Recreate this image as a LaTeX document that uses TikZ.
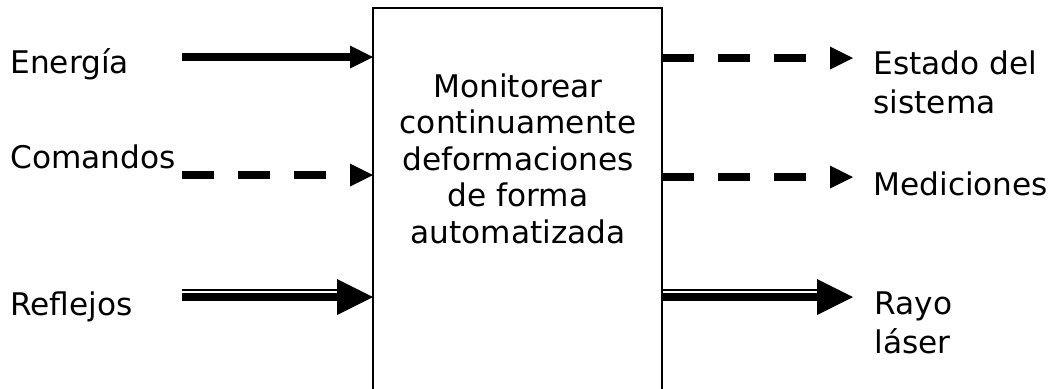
\documentclass[tikz,border=0pt]{standalone}
\usepackage{fontspec}
\setmainfont{DejaVu Sans}
\usetikzlibrary{arrows.meta}
\tikzset{
    >={Triangle[length=11.5pt,width=11.5pt,line width=0pt]},
    flow/.style={line width=4pt,->},
    dashflow/.style={flow,dash pattern=on 16pt off 12pt},
    bigflow/.style={line width=4pt,-{Triangle[length=18pt,width=18pt,line width=0pt]}},
    thinflow/.style={line width=0.75pt},
    tag/.style={anchor=base west,inner sep=0pt,align=left,font=\fontsize{15.6}{19.25}\selectfont},
    taskbox/.style={draw,line width=1pt,outer sep=0pt,anchor=north,minimum width=144.5pt,minimum height=200pt},
    tasktext/.style={anchor=north,inner sep=0pt,align=center,font=\fontsize{15.6}{18.25}\selectfont}
}

\begin{document}
\begin{tikzpicture}[x=0.5pt,y=-0.5pt]
  \useasboundingbox (0,0) rectangle (1053,388);
  \clip (0,0) rectangle (1053,388);

  \node[taskbox] (task) at (517.5,8) {};
  \node[tasktext] (tasklabel) at (518,73) {Monitorear\\continuamente\\deformaciones\\de forma\\automatizada};

  % inputs
  \coordinate (energiaIn) at (182,57);
  \coordinate (comandosIn) at (182,175);
  \coordinate (reflejosIn) at (182,297);
  \draw[flow] (energiaIn) -- (energiaIn -| task.west);
  \draw[dashflow] (comandosIn) -- (comandosIn -| task.west);
  \draw[thinflow,shorten >=14pt] ([yshift=3.5pt]reflejosIn) -- ([yshift=3.5pt]reflejosIn -| task.west);
  \draw[bigflow] (reflejosIn) -- (reflejosIn -| task.west);

  % outputs
  \coordinate (estadoOut) at (853,58);
  \coordinate (medicionesOut) at (853,177);
  \coordinate (rayoOut) at (853,297);
  \draw[dashflow] (estadoOut -| task.east) -- (estadoOut);
  \draw[dashflow] (medicionesOut -| task.east) -- (medicionesOut);
  \draw[thinflow,shorten >=14pt] ([yshift=3.5pt]rayoOut -| task.east) -- ([yshift=3.5pt]rayoOut);
  \draw[bigflow] (rayoOut -| task.east) -- (rayoOut);

  \node[tag] (energia) at (10,73) {Energía};
  \node[tag] (comandos) at (10,168) {Comandos};
  \node[tag] (reflejos) at (10,315) {Reflejos};
  \node[tag] (estado) at (873,113) {Estado del\\sistema};
  \node[tag] (mediciones) at (873,195) {Mediciones};
  \node[tag] (rayo) at (874,353) {Rayo\\láser};
\end{tikzpicture}
\end{document}
